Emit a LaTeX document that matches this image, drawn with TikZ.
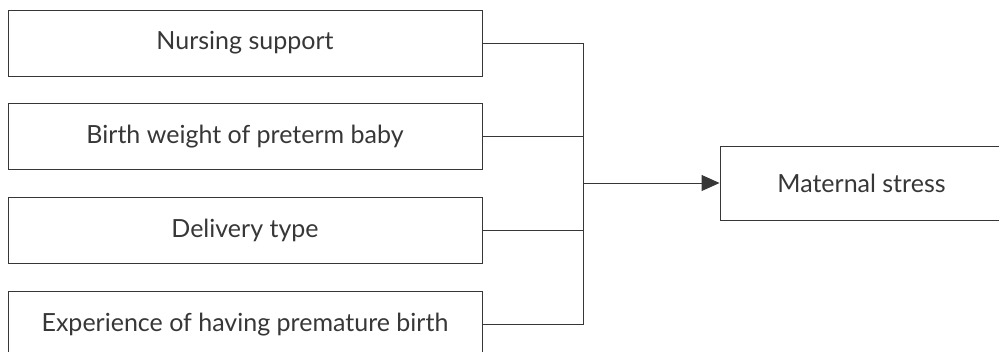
\documentclass[tikz,border=0pt]{standalone}
\usepackage{fontspec}
\setmainfont{Lato}
\usetikzlibrary{arrows.meta,positioning}
\definecolor{boxgray}{RGB}{55,55,55}
\tikzset{
    factor/.style={rectangle, draw=boxgray, line width=0.9pt, inner sep=0pt,
                   minimum width=474pt, minimum height=66pt, align=center,
                   font=\fontsize{25}{29}\selectfont, text=boxgray},
    outcome/.style={factor, minimum width=283pt, minimum height=74pt},
    link/.style={draw=boxgray, line width=0.9pt},
    arr/.style={-{Triangle[length=18pt,width=16pt]}, link},
}

\begin{document}
\begin{tikzpicture}[x=1pt, y=-1pt]
    \clip (0,0) rectangle (999,351);
    \node[factor] (f1) at (245,43) {Nursing support};
    \node[factor, below=27pt of f1] (f2) {Birth weight of preterm baby};
    \node[factor, below=27pt of f2] (f3) {Delivery type};
    \node[factor, below=27pt of f3] (f4) {Experience of having premature birth};
    \node[outcome] (out) at (861.5,183) {Maternal stress};
    \coordinate (j) at (583,183);
    % collect the four factors on one bar
    \draw[link] (f1.east) -- (f1.east -| j) -- (f4.east -| j) -- (f4.east);
    \draw[link] (f2.east) -- (f2.east -| j);
    \draw[link] (f3.east) -- (f3.east -| j);
    \draw[arr] (j) -- (out.west);
\end{tikzpicture}
\end{document}
